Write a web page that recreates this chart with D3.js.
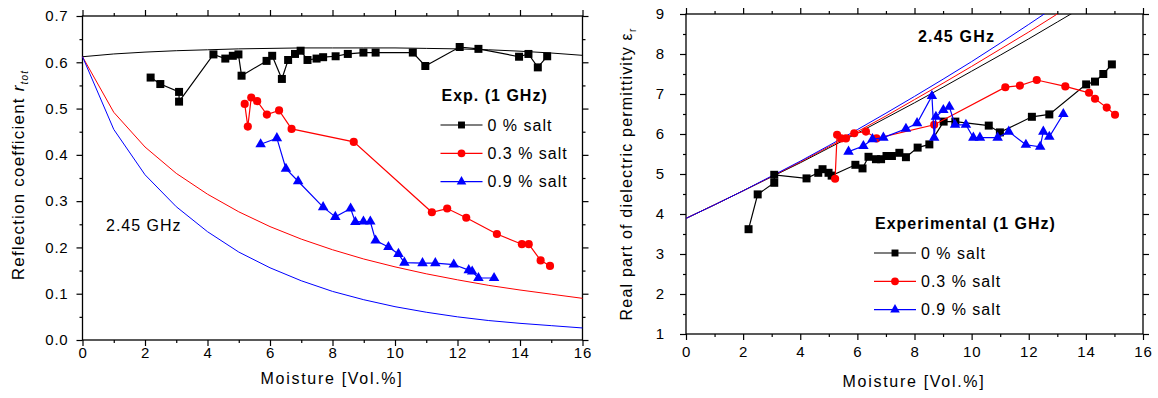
<!DOCTYPE html>
<html>
<head>
<meta charset="utf-8">
<script src="https://cdn.jsdelivr.net/npm/d3@7"></script>
<style>
  body { margin: 0; background: #fff; }
  svg { font-family: "Liberation Sans", Arial, sans-serif; }
</style>
</head>
<body>
<div class="chart"></div>
<script>
// ---- data ----
// left panel: reflection coefficient vs moisture
var thX = [0,1,2,3,4,5,6,7,8,9,10,11,12,13,14,15,16];
var thR0 = [0.612,0.618,0.622,0.625,0.627,0.629,0.630,0.631,0.631,0.631,0.631,0.630,0.629,0.627,0.624,0.620,0.615];
var thR3 = [0.612,0.492,0.417,0.360,0.315,0.277,0.245,0.218,0.195,0.175,0.158,0.143,0.130,0.118,0.108,0.099,0.090];
var thR9 = [0.612,0.455,0.357,0.288,0.234,0.190,0.156,0.128,0.105,0.087,0.072,0.060,0.050,0.042,0.036,0.031,0.026];

var rX0 = [2.18,2.49,3.09,3.09,4.19,4.57,4.81,4.99,5.09,5.89,6.07,6.38,6.58,6.80,6.98,7.20,7.49,7.70,8.10,8.49,8.99,9.38,10.57,10.97,12.07,12.67,13.97,14.27,14.57,14.87];
var rY0 = [0.567,0.553,0.536,0.515,0.617,0.608,0.614,0.617,0.571,0.603,0.614,0.564,0.605,0.618,0.625,0.605,0.608,0.611,0.613,0.618,0.621,0.621,0.621,0.592,0.633,0.629,0.612,0.618,0.589,0.613];
var rX3 = [5.19,5.29,5.40,5.59,5.90,6.29,6.69,8.68,11.18,11.67,12.28,13.26,14.06,14.28,14.66,14.96];
var rY3 = [0.510,0.461,0.524,0.516,0.487,0.496,0.456,0.428,0.276,0.284,0.264,0.229,0.207,0.207,0.172,0.160];
var rX9 = [5.70,6.22,6.51,6.90,7.70,8.09,8.58,8.73,8.99,9.21,9.38,9.79,10.11,10.30,10.88,11.29,11.88,12.36,12.47,12.67,13.17];
var rY9 = [0.423,0.436,0.370,0.343,0.287,0.266,0.284,0.255,0.256,0.256,0.215,0.201,0.186,0.167,0.166,0.166,0.163,0.151,0.148,0.134,0.134];

// right panel: real part of permittivity vs moisture
var thE0 = [3.89,4.23,4.58,4.93,5.28,5.65,6.02,6.40,6.78,7.17,7.57,7.97,8.38,8.80,9.22,9.65,10.10];
var thE3 = [3.89,4.23,4.58,4.94,5.30,5.68,6.06,6.45,6.86,7.27,7.69,8.12,8.55,9.00,9.45,9.90,10.40];
var thE9 = [3.89,4.23,4.58,4.95,5.32,5.71,6.11,6.52,6.94,7.37,7.81,8.27,8.74,9.22,9.70,10.20,10.70];

var eX0 = [2.19,2.51,3.09,3.09,4.22,4.63,4.78,4.99,5.10,5.93,6.18,6.39,6.65,6.83,7.02,7.21,7.47,7.70,8.11,8.52,9.02,9.43,10.60,10.99,12.11,12.72,14.01,14.32,14.61,14.91];
var eY0 = [3.62,4.49,4.78,4.98,4.89,5.03,5.12,5.03,4.96,5.23,5.14,5.43,5.37,5.37,5.45,5.45,5.53,5.42,5.66,5.74,6.31,6.31,6.21,6.04,6.43,6.49,7.24,7.31,7.50,7.74];
var eX3 = [5.22,5.29,5.43,5.60,5.89,6.30,6.67,8.69,11.18,11.69,12.28,13.28,14.11,14.32,14.73,15.02];
var eY3 = [4.88,5.98,5.89,5.89,6.02,6.06,5.89,6.23,7.17,7.21,7.35,7.19,7.03,6.88,6.66,6.48];
var eX9 = [5.69,6.21,6.53,6.91,7.70,8.09,8.61,8.69,8.75,9.01,9.22,9.42,9.80,10.06,10.29,10.91,11.30,11.90,12.40,12.51,12.72,13.21];
var eY9 = [5.56,5.70,5.87,5.91,6.13,6.27,6.95,5.91,6.43,6.60,6.68,6.23,6.23,5.91,5.91,5.91,6.06,5.73,5.68,6.06,5.93,6.50];

var saltLabels = ["0 % salt", "0.3 % salt", "0.9 % salt"];
var colors = ["#000000", "#ff0000", "#0000ff"];
var shapes = [d3.symbolSquare, d3.symbolCircle, d3.symbolTriangle];
var xTicks = [0,2,4,6,8,10,12,14,16];
var xMinor = [1,3,5,7,9,11,13,15];
var rTicks = [0,0.1,0.2,0.3,0.4,0.5,0.6,0.7];
var rMinor = [0.05,0.15,0.25,0.35,0.45,0.55,0.65];
var eTicks = [1,2,3,4,5,6,7,8,9];
var eMinor = [1.5,2.5,3.5,4.5,5.5,6.5,7.5,8.5];

var width = 1158, height = 398;
var svg = d3.select(".chart").append("svg")
            .attr("width", width).attr("height", height);
svg.append("rect").attr("width", width).attr("height", height).attr("fill", "#fff");

function zip(xs, ys) { return xs.map((x, i) => [x, ys[i]]); }

// axes + frame for one panel
function frame(xScale, yScale, yTicks, yMinor, yFmt, yPad, xPad, id) {
  var x0 = xScale.range()[0], x1 = xScale.range()[1];
  var yb = yScale.range()[0], yt = yScale.range()[1];
  var g = svg.append("g").attr("id", id);
  var style = function (sel) {
    sel.select(".domain").remove();
    sel.selectAll("line").attr("stroke", "#000").attr("stroke-width", 1.2);
    sel.selectAll("text").attr("fill", "#000").style("font-size", "15px").style("letter-spacing", "0.8px");
  };
  g.append("g").attr("transform", "translate(0," + yb + ")")
   .call(d3.axisBottom(xScale).tickValues(xTicks).tickSize(6).tickPadding(xPad).tickFormat(d3.format("d"))).call(style);
  g.append("g").attr("transform", "translate(0," + yb + ")")
   .call(d3.axisBottom(xScale).tickValues(xMinor).tickSize(3).tickFormat("")).call(style);
  g.append("g").attr("transform", "translate(0," + yt + ")")
   .call(d3.axisTop(xScale).tickValues(xTicks).tickSize(6).tickFormat("")).call(style);
  g.append("g").attr("transform", "translate(0," + yt + ")")
   .call(d3.axisTop(xScale).tickValues(xMinor).tickSize(3).tickFormat("")).call(style);
  g.append("g").attr("transform", "translate(" + x0 + ",0)")
   .call(d3.axisLeft(yScale).tickValues(yTicks).tickSize(6).tickPadding(yPad).tickFormat(yFmt)).call(style);
  g.append("g").attr("transform", "translate(" + x0 + ",0)")
   .call(d3.axisLeft(yScale).tickValues(yMinor).tickSize(3).tickFormat("")).call(style);
  g.append("g").attr("transform", "translate(" + x1 + ",0)")
   .call(d3.axisRight(yScale).tickValues(yTicks).tickSize(6).tickFormat("")).call(style);
  g.append("g").attr("transform", "translate(" + x1 + ",0)")
   .call(d3.axisRight(yScale).tickValues(yMinor).tickSize(3).tickFormat("")).call(style);
  g.append("rect").attr("x", x0).attr("y", yt).attr("width", x1 - x0).attr("height", yb - yt)
   .attr("fill", "none").attr("stroke", "#000").attr("stroke-width", 1.3);
}

function series(g, xScale, yScale, pts, color, shape, size) {
  var line = d3.line().x(d => xScale(d[0])).y(d => yScale(d[1]));
  g.append("path").datum(pts).attr("d", line)
   .attr("fill", "none").attr("stroke", color).attr("stroke-width", 1.2);
  g.selectAll(null).data(pts).enter().append("path")
   .attr("d", d3.symbol().type(shape).size(size))
   .attr("transform", d => "translate(" + xScale(d[0]) + "," + yScale(d[1]) + ")")
   .attr("fill", color);
}

function theory(g, xScale, yScale, ys, color) {
  var line = d3.line().x(d => xScale(d[0])).y(d => yScale(d[1]));
  g.append("path").datum(zip(thX, ys)).attr("d", line)
   .attr("fill", "none").attr("stroke", color).attr("stroke-width", 1);
}

function legend(x, y, title, gap) {
  var g = svg.append("g");
  g.append("text").attr("x", x + 1).attr("y", y).text(title)
   .style("font-size", "16px").style("font-weight", "bold").style("letter-spacing", "1px");
  saltLabels.forEach(function (lab, i) {
    var yy = y + 24 + i * gap;
    g.append("line").attr("x1", x).attr("x2", x + 42).attr("y1", yy).attr("y2", yy)
     .attr("stroke", colors[i]).attr("stroke-width", 1.2);
    g.append("path").attr("d", d3.symbol().type(shapes[i]).size(i == 2 ? 40 : 48)())
     .attr("transform", "translate(" + (x + 21) + "," + yy + ")").attr("fill", colors[i]);
    g.append("text").attr("x", x + 47).attr("y", yy + 5.5).text(lab)
     .style("font-size", "16px").style("letter-spacing", "1px");
  });
}

// ---- left panel ----
var xL = d3.scaleLinear().domain([0, 16]).range([82.5, 582.5]);
var yL = d3.scaleLinear().domain([0, 0.7]).range([340, 16]);
frame(xL, yL, rTicks, rMinor, d3.format(".1f"), 8, 1, "left");
var gL = svg.append("g");
theory(gL, xL, yL, thR0, colors[0]);
theory(gL, xL, yL, thR3, colors[1]);
theory(gL, xL, yL, thR9, colors[2]);
series(gL, xL, yL, zip(rX0, rY0), colors[0], shapes[0], 64);
series(gL, xL, yL, zip(rX3, rY3), colors[1], shapes[1], 52);
series(gL, xL, yL, zip(rX9, rY9), colors[2], shapes[2], 48);
svg.append("text").attr("x", 106).attr("y", 231).text("2.45 GHz")
   .style("font-size", "16px").style("letter-spacing", "1px");
legend(440.5, 101, "Exp. (1 GHz)", 28.3);

var tl = svg.append("text").attr("transform", "translate(24,175) rotate(-90)")
   .attr("text-anchor", "middle").style("font-size", "17px").style("letter-spacing", "1.2px");
tl.append("tspan").text("Reflection coefficient ");
tl.append("tspan").style("font-style", "italic").text("r");
tl.append("tspan").attr("dy", 4).style("font-style", "italic").style("font-size", "10px").text("tot");
svg.append("text").attr("x", 332).attr("y", 384).attr("text-anchor", "middle")
   .text("Moisture [Vol.%]").style("font-size", "16px").style("letter-spacing", "1.7px");

// ---- right panel ----
var xR = d3.scaleLinear().domain([0, 16]).range([686, 1143]);
var yR = d3.scaleLinear().domain([1, 9]).range([334, 14]);
frame(xR, yR, eTicks, eMinor, d3.format("d"), 15, 6, "right");
svg.append("clipPath").attr("id", "clipR").append("rect")
   .attr("x", 686).attr("y", 14).attr("width", 457).attr("height", 320);
var gR = svg.append("g").attr("clip-path", "url(#clipR)");
theory(gR, xR, yR, thE0, colors[0]);
theory(gR, xR, yR, thE3, colors[1]);
theory(gR, xR, yR, thE9, colors[2]);
var gR2 = svg.append("g");
series(gR2, xR, yR, zip(eX0, eY0), colors[0], shapes[0], 64);
series(gR2, xR, yR, zip(eX3, eY3), colors[1], shapes[1], 52);
series(gR2, xR, yR, zip(eX9, eY9), colors[2], shapes[2], 48);
svg.append("text").attr("x", 918).attr("y", 42).text("2.45 GHz")
   .style("font-size", "16px").style("font-weight", "bold").style("letter-spacing", "1.2px");
legend(874, 229, "Experimental (1 GHz)", 28.3);

var tr = svg.append("text").attr("transform", "translate(632,174) rotate(-90)")
   .attr("text-anchor", "middle").style("font-size", "16px").style("letter-spacing", "1.2px");
tr.append("tspan").text("Real part of dielectric permittivity \u03b5");
tr.append("tspan").attr("dy", 4).style("font-size", "10px").text("r");
svg.append("text").attr("x", 914).attr("y", 387).attr("text-anchor", "middle")
   .text("Moisture [Vol.%]").style("font-size", "16px").style("letter-spacing", "1.7px");
</script>
</body>
</html>
